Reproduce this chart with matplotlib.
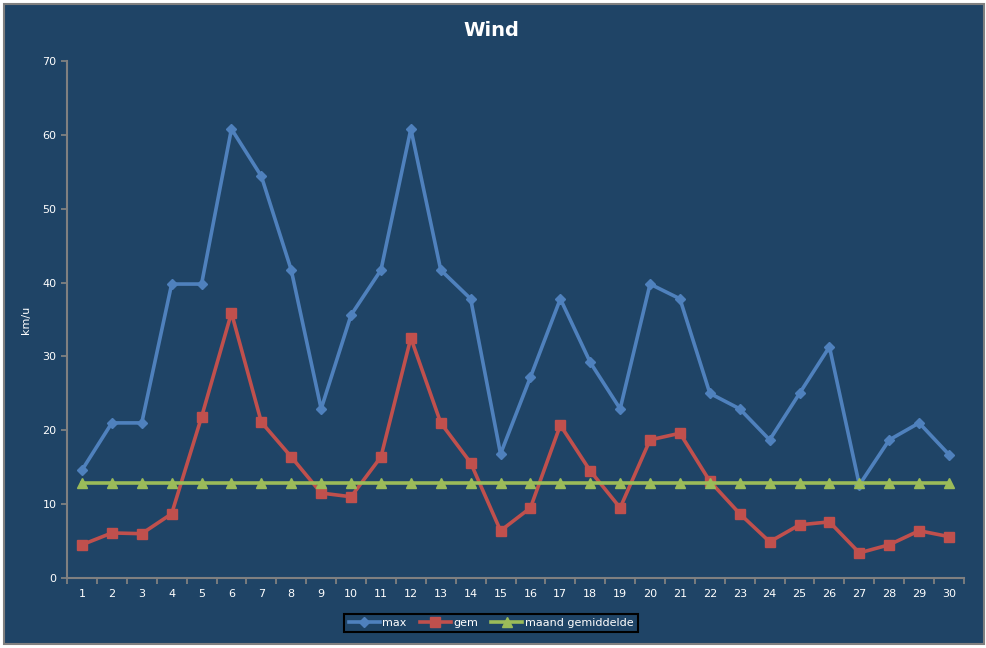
import matplotlib
matplotlib.use("Agg")
import matplotlib.pyplot as plt
from matplotlib.patches import Rectangle

days = list(range(1, 31))
wind_max = [14.6, 21.0, 21.0, 39.8, 39.8, 60.8, 54.4, 41.7, 22.9, 35.6,
            41.7, 60.8, 41.7, 37.8, 16.8, 27.2, 37.8, 29.2, 22.9, 39.8,
            37.8, 25.0, 22.9, 18.7, 25.0, 31.3, 12.6, 18.7, 21.0, 16.7]
wind_gem = [4.5, 6.1, 6.0, 8.7, 21.8, 35.9, 21.1, 16.4, 11.5, 11.0,
            16.4, 32.5, 21.0, 15.6, 6.4, 9.5, 20.7, 14.5, 9.5, 18.7,
            19.6, 13.1, 8.7, 4.9, 7.2, 7.6, 3.4, 4.5, 6.4, 5.6]
maand_gem = [12.9] * 30

bg = "#1f4466"
grey = "#808080"

fig = plt.figure(figsize=(9.87, 6.48), dpi=100)
fig.patch.set_facecolor("white")
# chart area frame
fig.patches.append(Rectangle((4 / 987, 4 / 648), 980 / 987, 640 / 648,
                             transform=fig.transFigure, facecolor=bg,
                             edgecolor=grey, linewidth=1.5, zorder=-10))

ax = fig.add_axes([67 / 987, 1 - 578 / 648, (964 - 67) / 987, (578 - 61) / 648])
ax.set_facecolor(bg)

ax.plot(days, wind_max, color="#4f81bd", lw=2.6, marker="D", ms=5.5, label="max")
ax.plot(days, wind_gem, color="#c0504d", lw=2.6, marker="s", ms=7, label="gem")
ax.plot(days, maand_gem, color="#9bbb59", lw=2.6, marker="^", ms=7,
        label="maand gemiddelde")

ax.set_xlim(0.5, 30.5)
ax.set_ylim(0, 70)
ax.set_yticks(range(0, 71, 10))
ax.set_xticks(days)
ax.set_xticks([d + 0.5 for d in range(0, 31)], minor=True)
ax.tick_params(axis="x", which="major", length=0, pad=8, colors="white", labelsize=8)
ax.tick_params(axis="x", which="minor", length=4, color=grey, width=1.3)
ax.tick_params(axis="y", length=4, color=grey, width=1.3, colors="white", labelsize=8)
for t in ax.get_yticklabels():
    t.set_color("white")
for side in ["top", "right"]:
    ax.spines[side].set_visible(False)
for side in ["left", "bottom"]:
    ax.spines[side].set_color(grey)
    ax.spines[side].set_linewidth(1.5)

ax.set_ylabel("km/u", color="white", fontsize=8, labelpad=8)
fig.text(491 / 987, 1 - 30 / 648, "Wind", color="white", fontsize=14,
         fontweight="bold", ha="center", va="center")

leg = ax.legend(loc="center", bbox_to_anchor=(491 / 987, 1 - 623 / 648),
                bbox_transform=fig.transFigure, ncol=3, frameon=True,
                facecolor=bg, edgecolor="black", fontsize=8, fancybox=False,
                handlelength=2.8, handletextpad=0.2, columnspacing=1.2,
                borderpad=0.4, labelcolor="white")
leg.get_frame().set_linewidth(1.5)
leg.get_frame().set_alpha(1)

fig.savefig("out.png", dpi=100, facecolor=fig.get_facecolor())
